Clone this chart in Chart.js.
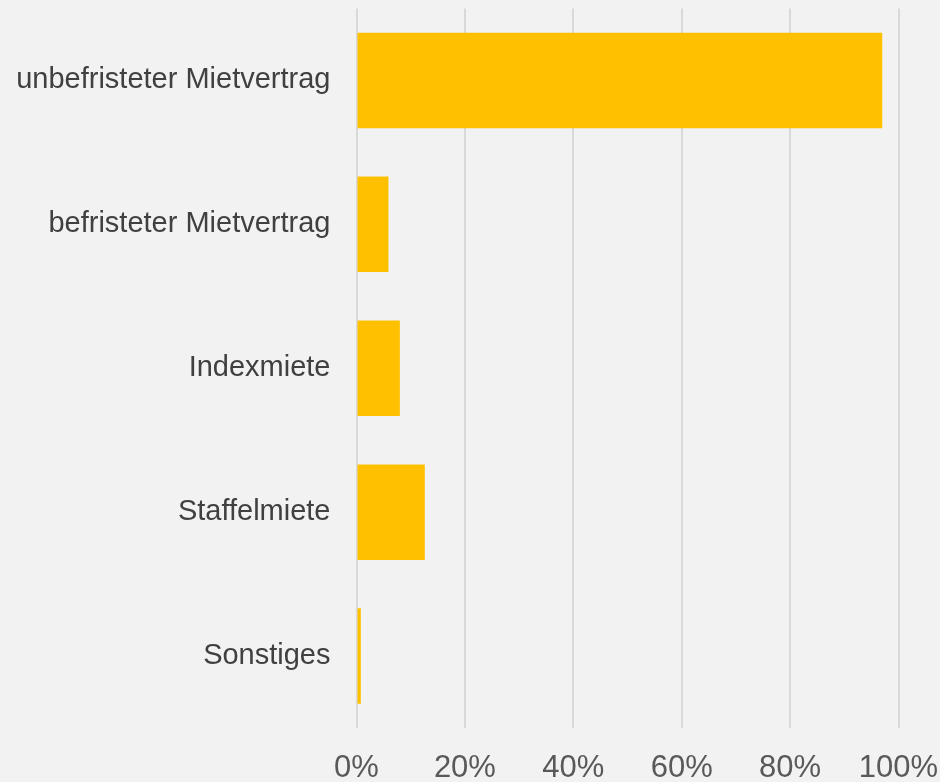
<!DOCTYPE html>
<html>
<head>
<meta charset="utf-8">
<script src="https://cdn.jsdelivr.net/npm/chart.js@4/dist/chart.umd.min.js"></script>
<style>
  html, body { margin: 0; padding: 0; background: #f2f2f2; }
  #wrap { width: 940px; height: 782px; position: relative; }
</style>
</head>
<body>
<div id="wrap"><canvas id="chart" width="940" height="782"></canvas></div>
<script>
// Mietvertragsarten, Anteil in Prozent
const categories = [
  'unbefristeter Mietvertrag',
  'befristeter Mietvertrag',
  'Indexmiete',
  'Staffelmiete',
  'Sonstiges'
];
const shares = [97, 5.9, 8, 12.6, 0.8];
const tickValues = [0, 20, 40, 60, 80, 100];

const ctx = document.getElementById('chart').getContext('2d');
new Chart(ctx, {
  type: 'bar',
  data: {
    labels: categories,
    datasets: [{
      data: shares,
      backgroundColor: '#ffc000',
      borderWidth: 0,
      categoryPercentage: 0.664,
      barPercentage: 1.0
    }]
  },
  options: {
    indexAxis: 'y',
    responsive: false,
    animation: false,
    layout: { padding: { top: 8.5, right: 41.5, left: 0, bottom: 0 } },
    plugins: {
      legend: { display: false },
      tooltip: { enabled: false }
    },
    scales: {
      x: {
        min: 0,
        max: 100,
        afterBuildTicks: (axis) => { axis.ticks = tickValues.map(v => ({ value: v })); },
        afterFit: (axis) => {
          axis.height = 54;
          axis.paddingLeft = 0;
          axis.paddingRight = 0;
        },
        grid: { color: '#d9d9d9', lineWidth: 2, drawTicks: false },
        border: { display: false },
        ticks: {
          padding: 22,
          color: '#595959',
          font: { family: '"Liberation Sans", Arial, sans-serif', size: 31 },
          callback: (v) => v + '%',
          maxRotation: 0
        }
      },
      y: {
        afterFit: (axis) => {
          axis.width = 356.5;
          axis.paddingTop = 0;
          axis.paddingBottom = 0;
        },
        grid: { display: false, drawTicks: false },
        border: { display: false },
        ticks: {
          padding: 26,
          color: '#404040',
          font: { family: '"Liberation Sans", Arial, sans-serif', size: 29 }
        }
      }
    }
  }
});
</script>
</body>
</html>
